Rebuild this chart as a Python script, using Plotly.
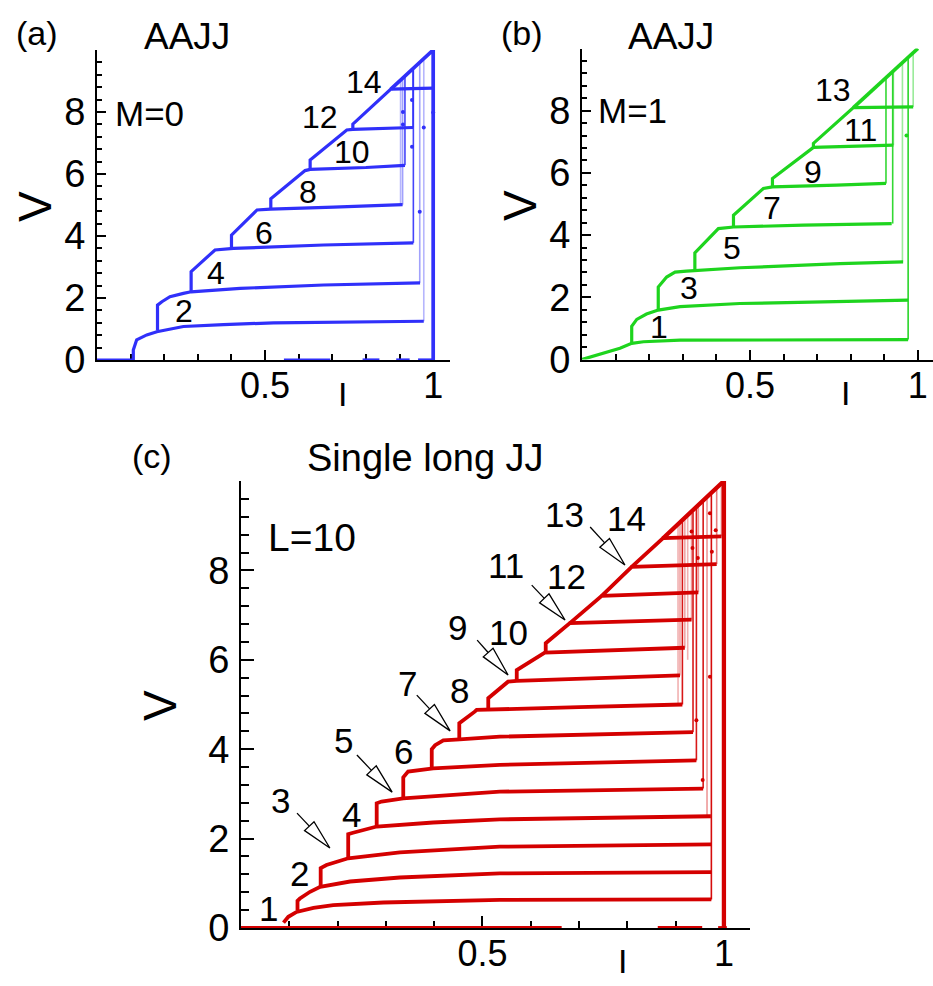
import math
import plotly.graph_objects as go

FONT = "Liberation Sans, Arial, sans-serif"
W, H = 933, 986

BLUE = "rgb(48,48,250)"
GREEN = "rgb(30,212,30)"
RED = "rgb(212,0,0)"

# ---------------- panel (a): AAJJ, M=0 ----------------
a_branch_I = [
    [0.108, 0.108, 0.118, 0.148, 0.178, 0.257, 0.376, 0.525, 0.972],
    [0.180, 0.180, 0.193, 0.217, 0.257, 0.280, 0.426, 0.674, 0.961],
    [0.280, 0.280, 0.351, 0.406, 0.674, 0.941],
    [0.400, 0.400, 0.476, 0.516, 0.704, 0.909],
    [0.517, 0.517, 0.619, 0.634, 0.800, 0.916],
    [0.634, 0.634, 0.743, 0.761, 0.940],
    [0.761, 0.761, 0.874, 1.000],
]
a_branch_V = [
    [0.00, 0.32, 0.65, 0.81, 0.91, 1.08, 1.14, 1.20, 1.25],
    [0.95, 1.77, 1.88, 2.04, 2.15, 2.20, 2.31, 2.42, 2.49],
    [2.20, 2.85, 3.55, 3.60, 3.71, 3.78],
    [3.60, 4.03, 4.84, 4.87, 4.93, 5.01],
    [4.87, 5.20, 6.11, 6.15, 6.21, 6.28],
    [6.15, 6.45, 7.42, 7.44, 7.50],
    [7.44, 7.61, 8.74, 8.77],
]
a_top_I = [0.874, 1.000, 1.000]
a_top_V = [8.74, 10.00, 0.00]
a_sw_I = [0.903, 0.909, 0.916, 0.940, 0.941, 0.960, 0.972]
a_sw_V0 = [5.00, 5.01, 6.28, 7.50, 3.78, 2.49, 1.25]
a_sw_V1 = [9.00, 9.10, 9.15, 9.40, 9.40, 9.60, 9.70]
a_sw_alpha = [0.35, 0.45, 0.9, 0.9, 0.9, 0.45, 0.35]
a_zero_I0 = [0.0, 0.556, 0.790, 0.890, 0.955]
a_zero_I1 = [0.108, 0.694, 0.840, 0.930, 1.000]
a_dot_I = [0.910, 0.910, 0.937, 0.937, 0.960, 0.972, 1.000]
a_dot_V = [8.00, 7.60, 8.39, 6.88, 4.78, 7.50, 7.98]
a_lbl_text = ["2", "4", "6", "8", "10", "12", "14"]
a_lbl_I = [0.259, 0.354, 0.497, 0.628, 0.759, 0.664, 0.795]
a_lbl_V = [1.58, 2.81, 4.10, 5.42, 6.71, 7.84, 8.97]

# ---------------- panel (b): AAJJ, M=1 ----------------
b_branch_I = [
    [0.000, 0.064, 0.113, 0.148, 0.183, 0.292, 0.971],
    [0.148, 0.148, 0.163, 0.192, 0.227, 0.292, 0.470, 0.867, 0.971],
    [0.227, 0.227, 0.252, 0.277, 0.311, 0.470, 0.768, 0.956],
    [0.336, 0.336, 0.406, 0.451, 0.659, 0.922],
    [0.451, 0.451, 0.540, 0.567, 0.758, 0.905],
    [0.567, 0.567, 0.689, 0.927],
    [0.689, 0.689, 0.808, 0.986],
]
b_branch_V = [
    [0.00, 0.19, 0.36, 0.52, 0.57, 0.62, 0.64],
    [0.52, 1.07, 1.29, 1.46, 1.59, 1.70, 1.80, 1.88, 1.91],
    [1.59, 2.33, 2.65, 2.81, 2.84, 2.95, 3.08, 3.14],
    [2.88, 3.43, 4.21, 4.26, 4.32, 4.37],
    [4.26, 4.64, 5.50, 5.55, 5.61, 5.66],
    [5.55, 5.82, 6.82, 6.89],
    [6.82, 6.95, 8.10, 8.12],
]
b_top_I = [0.808, 1.000]
b_top_V = [8.10, 10.00]
b_sw_I = [0.905, 0.925, 0.927, 0.954, 0.971, 0.986]
b_sw_V0 = [5.66, 4.37, 6.89, 3.14, 0.64, 8.12]
b_sw_V1 = [9.05, 9.25, 9.27, 9.55, 9.70, 9.85]
b_sw_alpha = [0.9, 0.9, 0.5, 0.45, 0.95, 0.45]
b_dot_I = [0.966]
b_dot_V = [7.20]
b_lbl_text = ["1", "3", "5", "7", "9", "11", "13"]
b_lbl_I = [0.229, 0.318, 0.447, 0.566, 0.687, 0.830, 0.747]
b_lbl_V = [1.04, 2.29, 3.60, 4.86, 6.02, 7.37, 8.66]

# ---------------- panel (c): single long JJ, L=10 ----------------
c_branch_I = [
    [0.088, 0.098, 0.115, 0.150, 0.191, 0.295, 0.536, 0.974],
    [0.117, 0.117, 0.122, 0.143, 0.164, 0.226, 0.329, 0.536, 0.974],
    [0.165, 0.165, 0.177, 0.205, 0.222, 0.329, 0.536, 0.974],
    [0.222, 0.222, 0.232, 0.281, 0.398, 0.536, 0.973],
    [0.281, 0.281, 0.291, 0.336, 0.536, 0.957],
    [0.336, 0.336, 0.346, 0.398, 0.536, 0.943],
    [0.395, 0.395, 0.402, 0.419, 0.453, 0.536, 0.936],
    [0.452, 0.452, 0.484, 0.488, 0.700, 0.914],
    [0.512, 0.512, 0.553, 0.571, 0.909],
    [0.571, 0.571, 0.629, 0.919],
    [0.631, 0.631, 0.681, 0.933],
    [0.681, 0.747, 0.947],
    [0.747, 0.809, 0.985],
    [0.809, 0.874, 0.995],
]
c_branch_V = [
    [0.12, 0.25, 0.36, 0.45, 0.51, 0.57, 0.63, 0.64],
    [0.40, 0.61, 0.66, 0.81, 0.92, 1.04, 1.13, 1.22, 1.25],
    [0.92, 1.34, 1.41, 1.51, 1.56, 1.69, 1.82, 1.87],
    [1.56, 2.10, 2.13, 2.27, 2.36, 2.43, 2.50],
    [2.27, 2.79, 2.83, 2.90, 3.05, 3.12],
    [2.90, 3.37, 3.50, 3.57, 3.65, 3.75],
    [3.57, 4.00, 4.09, 4.20, 4.22, 4.28, 4.38],
    [4.22, 4.58, 4.84, 4.88, 4.94, 5.00],
    [4.89, 5.14, 5.51, 5.53, 5.65],
    [5.53, 5.77, 6.16, 6.27],
    [6.17, 6.37, 6.82, 6.90],
    [6.82, 7.43, 7.51],
    [7.43, 8.08, 8.14],
    [8.08, 8.72, 8.76],
]
c_top_I = [0.874, 1.000, 1.000]
c_top_V = [8.72, 10.00, 0.00]
c_sw_I = [0.905, 0.909, 0.914, 0.919, 0.925, 0.933, 0.936, 0.943, 0.947, 0.957, 0.965, 0.974, 0.985, 0.995]
c_sw_V0 = [5.00, 5.65, 5.00, 6.27, 6.00, 6.90, 4.38, 3.75, 7.51, 3.12, 2.50, 0.64, 8.14, 8.76]
c_sw_V1 = [9.00, 9.05, 9.10, 9.15, 9.20, 9.30, 9.30, 9.40, 9.45, 9.55, 9.60, 9.70, 9.85, 9.95]
c_sw_alpha = [0.3, 0.35, 0.9, 0.35, 0.3, 0.4, 0.9, 0.9, 0.4, 0.9, 0.4, 0.95, 0.5, 0.5]
c_zero_I0 = [0.0, 0.863, 0.988]
c_zero_I1 = [0.664, 0.955, 1.006]
c_dot_I = [0.933, 0.971, 0.983, 0.935, 0.946, 0.975, 1.000, 0.943, 0.971, 0.956]
c_dot_V = [8.87, 9.28, 8.90, 8.50, 8.28, 8.42, 6.96, 4.65, 5.62, 3.31]
c_lbl_text = ["1", "2", "3", "4", "5", "6", "7", "8", "9", "10", "11", "12", "13", "14"]
c_lbl_I = [0.056, 0.122, 0.081, 0.228, 0.213, 0.336, 0.344, 0.453, 0.449, 0.553, 0.549, 0.675, 0.669, 0.799]
c_lbl_V = [0.43, 1.21, 2.86, 2.53, 4.20, 3.94, 5.48, 5.32, 6.73, 6.62, 8.10, 7.87, 9.24, 9.15]
c_arrow_tail_I = [0.116, 0.240, 0.364, 0.489, 0.602, 0.723]
c_arrow_tail_V = [2.57, 3.87, 5.21, 6.44, 7.67, 8.97]
c_arrow_tip_I = [0.184, 0.313, 0.433, 0.553, 0.671, 0.795]
c_arrow_tip_V = [1.79, 3.04, 4.41, 5.66, 6.89, 8.12]

# axis ticks
x_major = [0.5, 1.0]
x_major_text = ["0.5", "1"]
y_major = [0, 2, 4, 6, 8]

# ---------------- layout geometry (pixels) ----------------
PANELS = {
    "a": dict(x0=97, x1=450, ytop=50, ybot=360, xmax=1.05),
    "b": dict(x0=582, x1=933, ytop=48.5, ybot=359.5, xmax=1.045),
    "c": dict(x0=241, x1=750, ytop=481, ybot=928, xmax=1.054),
}

fig = go.Figure()


def add_panel(xa, ya, color, width, branch_I, branch_V, top_I, top_V,
              sw_I, sw_V0, sw_V1, sw_alpha, zero_I0, zero_I1, dot_I, dot_V):
    for I, v0, v1, al in zip(sw_I, sw_V0, sw_V1, sw_alpha):
        fig.add_trace(go.Scatter(x=[I, I], y=[v0, v1], mode="lines", xaxis=xa, yaxis=ya,
                                 line=dict(color=color, width=1.6), opacity=al,
                                 showlegend=False, hoverinfo="skip", cliponaxis=False))
    for i0, i1 in zip(zero_I0, zero_I1):
        fig.add_trace(go.Scatter(x=[i0, i1], y=[0, 0], mode="lines", xaxis=xa, yaxis=ya,
                                 line=dict(color=color, width=width),
                                 showlegend=False, hoverinfo="skip", cliponaxis=False))
    for bi, bv in zip(branch_I, branch_V):
        fig.add_trace(go.Scatter(x=bi, y=bv, mode="lines", xaxis=xa, yaxis=ya,
                                 line=dict(color=color, width=width),
                                 showlegend=False, hoverinfo="skip", cliponaxis=False))
    fig.add_trace(go.Scatter(x=top_I, y=top_V, mode="lines", xaxis=xa, yaxis=ya,
                             line=dict(color=color, width=width + 0.5),
                             showlegend=False, hoverinfo="skip", cliponaxis=False))
    if dot_I:
        fig.add_trace(go.Scatter(x=dot_I, y=dot_V, mode="markers", xaxis=xa, yaxis=ya,
                                 marker=dict(color=color, size=4),
                                 showlegend=False, hoverinfo="skip", cliponaxis=False))


add_panel("x", "y", BLUE, 3.2, a_branch_I, a_branch_V, a_top_I, a_top_V,
          a_sw_I, a_sw_V0, a_sw_V1, a_sw_alpha, a_zero_I0, a_zero_I1, a_dot_I, a_dot_V)
add_panel("x2", "y2", GREEN, 3.2, b_branch_I, b_branch_V, b_top_I, b_top_V,
          b_sw_I, b_sw_V0, b_sw_V1, b_sw_alpha, [], [], b_dot_I, b_dot_V)
add_panel("x3", "y3", RED, 3.8, c_branch_I, c_branch_V, c_top_I, c_top_V,
          c_sw_I, c_sw_V0, c_sw_V1, c_sw_alpha, c_zero_I0, c_zero_I1, c_dot_I, c_dot_V)


def xaxis(p, anchor, major_len, minor_len):
    return dict(domain=[p["x0"] / W, min(p["x1"] / W, 1.0)], range=[0, p["xmax"]], anchor=anchor,
                showline=True, linecolor="black", linewidth=1.8, showgrid=False, zeroline=False,
                ticks="inside", ticklen=major_len, tickwidth=1.5, tickcolor="black",
                tickmode="array", tickvals=x_major, ticktext=x_major_text,
                tickfont=dict(family=FONT, size=36, color="black"), ticklabelstandoff=-7,
                minor=dict(tickmode="array", tickvals=[round(0.1 * k, 1) for k in range(1, 11)],
                           ticks="inside", ticklen=minor_len, tickwidth=1.5, tickcolor="black"),
                layer="below traces", fixedrange=True, automargin=False)


def yaxis(p, anchor, major_len, minor_len):
    return dict(domain=[1 - p["ybot"] / H, 1 - p["ytop"] / H], range=[0, 10], anchor=anchor,
                showline=True, linecolor="black", linewidth=1.8, showgrid=False, zeroline=False,
                ticks="inside", ticklen=major_len, tickwidth=1.5, tickcolor="black",
                tickmode="array", tickvals=y_major, ticktext=[str(v) for v in y_major],
                tickfont=dict(family=FONT, size=38, color="black"), ticklabelstandoff=2,
                minor=dict(tickmode="array", tickvals=[round(0.4 * k, 1) for k in range(1, 25)],
                           ticks="inside", ticklen=minor_len, tickwidth=1.5, tickcolor="black"),
                layer="below traces", fixedrange=True, automargin=False)


annotations = []


def ptext(txt, px, py, size, angle=0):
    annotations.append(dict(text=txt, x=px / W, y=1 - py / H, xref="paper", yref="paper",
                            showarrow=False, xanchor="center", yanchor="middle", textangle=angle,
                            font=dict(family=FONT, size=size, color="black")))


def dtext(labels, xs, ys, xa, ya, size):
    for t, xv, yv in zip(labels, xs, ys):
        annotations.append(dict(text=t, x=xv, y=yv, xref=xa, yref=ya, showarrow=False,
                                xanchor="center", yanchor="middle",
                                font=dict(family=FONT, size=size, color="black")))


ptext("(a)", 37, 33, 34)
ptext("AAJJ", 187, 37, 37)
ptext("M=0", 149, 113, 35)
ptext("V", 35, 207, 46, -90)
ptext("I", 342, 394, 34)
ptext("(b)", 522, 33, 34)
ptext("AAJJ", 671, 37, 37)
ptext("M=1", 632, 111, 35)
ptext("V", 520, 206, 46, -90)
ptext("I", 845, 393, 34)
ptext("(c)", 152, 456, 34)
ptext("Single long JJ", 425, 458, 38)
ptext("L=10", 312, 537, 39)
ptext("V", 160, 706, 46, -90)
ptext("I", 622, 961, 34)

dtext(a_lbl_text, a_lbl_I, a_lbl_V, "x", "y", 32)
dtext(b_lbl_text, b_lbl_I, b_lbl_V, "x2", "y2", 32)
dtext(c_lbl_text, c_lbl_I, c_lbl_V, "x3", "y3", 35)

# open arrowheads in panel (c)
pc = PANELS["c"]
sx = (pc["x1"] - pc["x0"]) / pc["xmax"]
sy = (pc["ybot"] - pc["ytop"]) / 10.0
HEAD_LEN, HEAD_HALF = 30.0, 6.5
shapes = []
for ti, tv, hi, hv in zip(c_arrow_tail_I, c_arrow_tail_V, c_arrow_tip_I, c_arrow_tip_V):
    dx = (hi - ti) * sx
    dy = (hv - tv) * sy
    L = math.hypot(dx, dy)
    ux, uy = dx / L, dy / L
    bx, by = hi - ux * HEAD_LEN / sx, hv - uy * HEAD_LEN / sy
    px_, py_ = -uy * HEAD_HALF, ux * HEAD_HALF
    shapes.append(dict(type="line", xref="x3", yref="y3", x0=ti, y0=tv, x1=bx, y1=by,
                       line=dict(color="black", width=1.3), layer="above"))
    path = "M {:.4f},{:.4f} L {:.4f},{:.4f} L {:.4f},{:.4f} Z".format(
        hi, hv, bx + px_ / sx, by + py_ / sy, bx - px_ / sx, by - py_ / sy)
    shapes.append(dict(type="path", xref="x3", yref="y3", path=path, fillcolor="white",
                       line=dict(color="black", width=1.3), layer="above"))

fig.update_layout(
    width=W, height=H, margin=dict(l=0, r=0, t=0, b=0, pad=0), autosize=False,
    paper_bgcolor="white", plot_bgcolor="white", showlegend=False,
    xaxis=xaxis(PANELS["a"], "y", 10, 6), yaxis=yaxis(PANELS["a"], "x", 9, 5),
    xaxis2=xaxis(PANELS["b"], "y2", 10, 6), yaxis2=yaxis(PANELS["b"], "x2", 9, 5),
    xaxis3=xaxis(PANELS["c"], "y3", 12, 7), yaxis3=yaxis(PANELS["c"], "x3", 13, 8),
    annotations=annotations, shapes=shapes,
)

POST = (
    "document.body.style.margin='0';"
    "var g=document.querySelector('.plotly-graph-div');"
    "g.style.position='fixed';g.style.top='0px';g.style.left='0px';"
)

fig.write_html("out.html", config={"displayModeBar": False}, post_script=POST)
